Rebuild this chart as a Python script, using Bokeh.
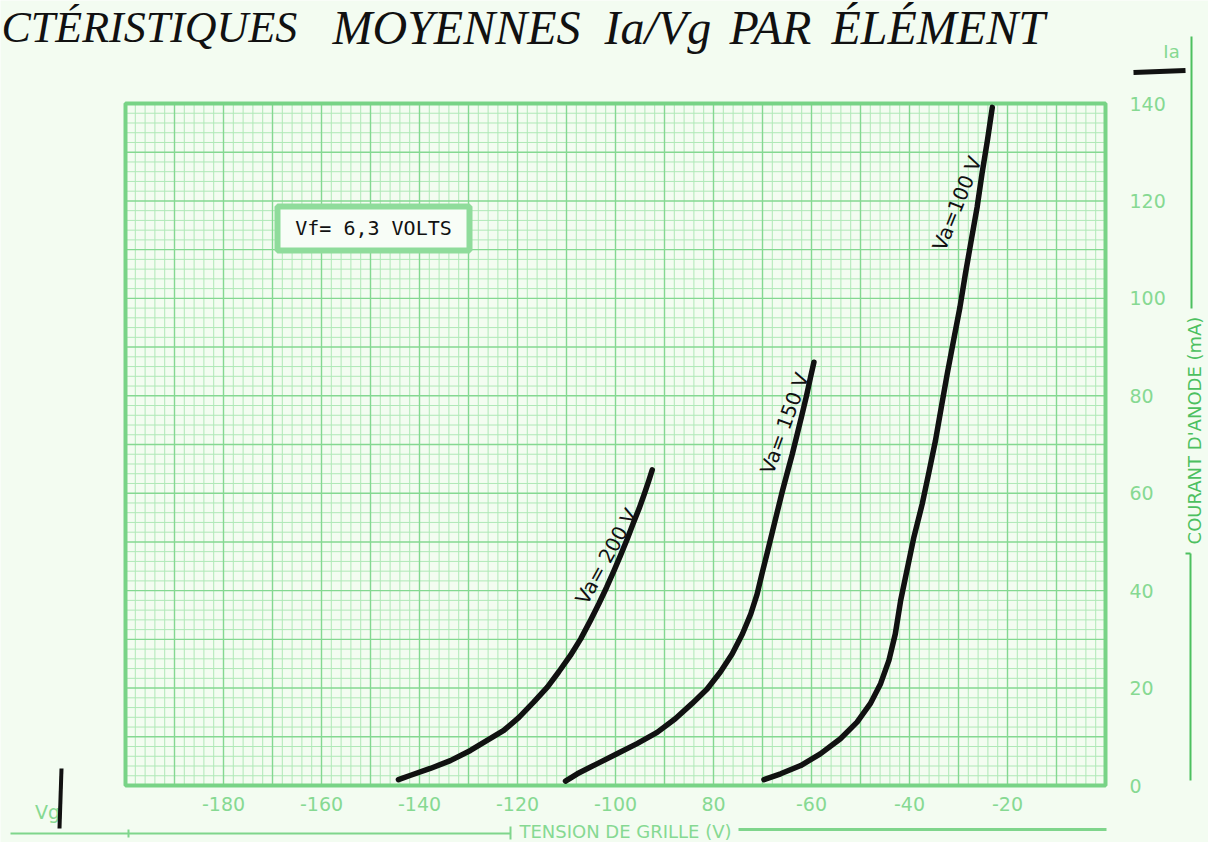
from bokeh.plotting import figure
from bokeh.models import Range1d, FixedTicker, LinearAxis
from bokeh.core.properties import value
from bokeh.embed import file_html
from bokeh.resources import INLINE

# ---------------- data ----------------
vg_ticks = [-180, -160, -140, -120, -100, -80, -60, -40, -20]
vg_tick_labels = ["-180", "-160", "-140", "-120", "-100", "80", "-60", "-40", "-20"]
ia_ticks = [0, 20, 40, 60, 80, 100, 120, 140]
ia_tick_labels = ["0", "20", "40", "60", "80", "100", "120", "140"]

vg_va200 = [-144.3, -141.8, -137.8, -133.7, -129.6, -122.8, -119.7, -116.7, -113.9, -111.6,
            -109.2, -107.1, -105.1, -103.4, -101.8, -100.3, -99.0, -97.6, -96.4, -95.2,
            -94.1, -93.2, -92.5]
ia_va200 = [1.2, 2.1, 3.5, 5.1, 7.2, 11.3, 14.0, 17.1, 20.2, 23.3,
            26.7, 30.1, 33.9, 37.3, 40.7, 44.1, 47.2, 50.6, 53.8, 56.8,
            59.9, 62.6, 64.8]

vg_va150 = [-110.2, -107.8, -103.7, -99.7, -95.6, -91.5, -87.8, -84.4, -81.3, -78.6,
            -76.2, -74.1, -72.4, -71.1, -70.1, -69.0, -68.0, -67.0, -66.0, -65.0,
            -63.9, -62.9, -61.9, -61.0, -60.2, -59.5]
ia_va150 = [0.9, 2.4, 4.5, 6.5, 8.6, 10.9, 13.7, 16.8, 19.8, 23.3,
            27.0, 31.1, 35.2, 39.3, 43.5, 47.9, 52.0, 56.1, 60.2, 64.0,
            68.1, 72.2, 76.3, 80.1, 83.8, 86.9]

vg_va100 = [-69.7, -66.3, -62.2, -58.2, -54.1, -50.7, -48.0, -45.9, -44.2, -42.9,
            -41.8, -39.1, -37.4, -36.1, -34.7, -33.5, -32.3, -31.0, -29.7, -28.6,
            -27.4, -26.2, -25.2, -24.1, -23.1]
ia_va100 = [1.2, 2.4, 4.1, 6.5, 9.6, 13.0, 16.8, 20.9, 25.7, 31.1,
            38.0, 51.0, 57.8, 64.0, 70.8, 77.7, 84.5, 91.4, 98.2, 105.0,
            111.9, 118.7, 125.6, 132.4, 139.2]

curve_labels = ["Va= 200 V", "Va= 150 V", "Va=100 V"]

title_words = ["CTÉRISTIQUES", "MOYENNES", "Ia/Vg", "PAR", "ÉLÉMENT"]
box_text = "Vf= 6,3 VOLTS"
x_title = "TENSION DE GRILLE (V)"
y_title = "COURANT D'ANODE (mA)"

# ---------------- styling ----------------
BG = "#f3fcf1"
GRID_MAJOR = "#84d891"
GRID_MINOR = "#afe8b7"
FRAME = "#78d386"
TICK_TXT = "#86d992"
AXIS_GREEN = "#4cc05f"
RULE = "#7fd58c"
INK = "#111111"

W, H = 1208, 842
# page-pixel -> data helpers (graph frame: x 125..1105 px, y 103..785 px)
FL, FR, FT, FB = 125.0, 1105.0, 103.0, 785.0
def dx(px):
    return -200.0 + (px - FL) * 200.0 / (FR - FL)
def dy(py):
    return (FB - py) * 140.0 / (FB - FT)

p = figure(width=W, height=H, min_border=0,
           x_range=Range1d(dx(0), dx(W)), y_range=Range1d(dy(H), dy(0)),
           x_axis_location=None, y_axis_location=None,
           output_backend="svg", toolbar_location=None)
p.background_fill_color = BG
p.border_fill_color = BG
p.outline_line_color = None
p.grid.visible = False

# graph-paper grid (minor every 2 units, major every 10)
gx_minor = [v for v in range(-198, 0, 2) if v % 10 != 0]
gx_major = list(range(-190, 0, 10))
gy_minor = [v for v in range(2, 140, 2) if v % 10 != 0]
gy_major = list(range(10, 140, 10))
p.segment(x0=gx_minor, y0=[0] * len(gx_minor), x1=gx_minor, y1=[140] * len(gx_minor),
          line_color=GRID_MINOR, line_width=1)
p.segment(x0=[-200] * len(gy_minor), y0=gy_minor, x1=[0] * len(gy_minor), y1=gy_minor,
          line_color=GRID_MINOR, line_width=1)
p.segment(x0=gx_major, y0=[0] * len(gx_major), x1=gx_major, y1=[140] * len(gx_major),
          line_color=GRID_MAJOR, line_width=1.4)
p.segment(x0=[-200] * len(gy_major), y0=gy_major, x1=[0] * len(gy_major), y1=gy_major,
          line_color=GRID_MAJOR, line_width=1.4)
p.quad(left=[-200], right=[0], bottom=[0], top=[140], fill_color=None,
       line_color=FRAME, line_width=4)

# axes fixed on the frame edges
xa = LinearAxis(fixed_location=0, ticker=FixedTicker(ticks=vg_ticks),
                major_label_overrides=dict(zip(vg_ticks, vg_tick_labels)))
ya = LinearAxis(fixed_location=0, ticker=FixedTicker(ticks=ia_ticks),
                major_label_overrides=dict(zip(ia_ticks, ia_tick_labels)))
for ax in (xa, ya):
    ax.axis_line_color = None
    ax.major_tick_line_color = None
    ax.minor_tick_line_color = None
    ax.major_tick_out = 0
    ax.major_tick_in = 0
    ax.major_label_text_color = TICK_TXT
    ax.major_label_text_font = "DejaVu Sans"
    ax.major_label_text_font_size = "19px"
xa.major_label_standoff = 11
ya.major_label_standoff = 24
p.add_layout(xa, "below")
p.add_layout(ya, "right")

# curves
for xs, ys in ((vg_va200, ia_va200), (vg_va150, ia_va150), (vg_va100, ia_va100)):
    p.line(xs, ys, line_color=INK, line_width=5.5, line_cap="round", line_join="round")

# curve labels (rotated along the curves)
lab_pos = [(606, 556, 61), (784, 423, 70), (956.5, 203, 68)]
p.text(x=[dx(a) for a, b, c in lab_pos], y=[dy(b) for a, b, c in lab_pos],
       text=curve_labels, angle=[c for a, b, c in lab_pos], angle_units="deg",
       text_align="center", text_baseline="middle",
       text_font=value("DejaVu Sans"), text_font_size="20px", text_color=INK)

# Vf box
p.quad(left=[dx(277)], right=[dx(469)], top=[dy(206)], bottom=[dy(250)],
       fill_color="#f8fdf7", line_color="#8fdc9b", line_width=6)
p.text(x=[dx(373)], y=[dy(227)], text=[box_text], text_align="center",
       text_baseline="middle", text_font=value("DejaVu Sans Mono"),
       text_font_size="20px", text_color=INK)

# title, word by word as spaced in the print
title_px = [(1, "44px"), (332, "48px"), (604, "48px"), (729, "48px"), (831, "48px")]
p.text(x=[dx(a) for a, b in title_px], y=[dy(27)] * len(title_px), text=title_words,
       text_font_size=[b for a, b in title_px], text_align="left", text_baseline="middle",
       text_font=value("Liberation Serif"), text_font_style="italic", text_color=INK)

# right-hand axis title and rule
p.text(x=[dx(1194)], y=[dy(430)], text=[y_title], angle=90, angle_units="deg",
       text_align="center", text_baseline="middle",
       text_font=value("DejaVu Sans"), text_font_size="18px", text_color=AXIS_GREEN)
def seg(x0, y0, x1, y1, color, w):
    p.line([dx(x0), dx(x1)], [dy(y0), dy(y1)], line_color=color, line_width=w)
seg(1191, 36, 1191, 308, AXIS_GREEN, 2)
seg(1190, 553, 1190, 780, AXIS_GREEN, 2)
seg(1185, 553, 1190, 553, AXIS_GREEN, 2)
p.text(x=[dx(1171)], y=[dy(51)], text=["Ia"], text_align="center",
       text_baseline="middle", text_font=value("DejaVu Sans"),
       text_font_size="18px", text_color=TICK_TXT)
seg(1133, 72, 1185, 70, INK, 5)

# bottom axis title and rule
p.text(x=[dx(625)], y=[dy(831)], text=[x_title], text_align="center",
       text_baseline="middle", text_font=value("DejaVu Sans"),
       text_font_size="18px", text_color=TICK_TXT)
seg(10, 833, 510, 833, RULE, 2)
seg(128, 829, 128, 837, RULE, 2)
seg(510, 826, 510, 839, RULE, 2)
seg(738, 829, 1106, 829, RULE, 3)
p.text(x=[dx(47)], y=[dy(811)], text=["Vg"], text_align="center",
       text_baseline="middle", text_font=value("DejaVu Sans"),
       text_font_size="19px", text_color=TICK_TXT)
seg(61, 768, 59, 828, INK, 4)

html = file_html(p, INLINE)
html = html.replace("<body>", '<body style="background-color:%s;">' % BG, 1)
open("out.html", "w").write(html)
